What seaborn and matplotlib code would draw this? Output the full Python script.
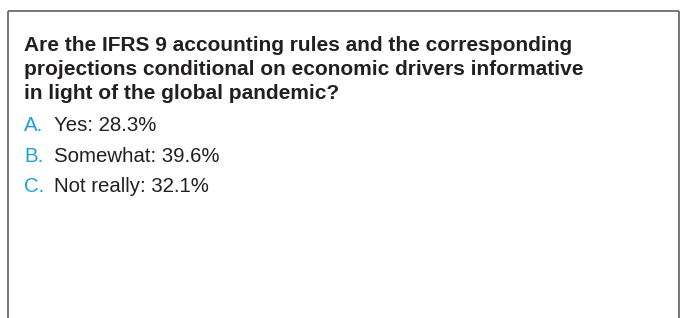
"""
Poll result card: IFRS 9 question with three answer shares.
"""

import matplotlib
matplotlib.use("Agg")
import matplotlib.pyplot as plt
import seaborn as sns

# Data
question_lines = [
    "Are the IFRS 9 accounting rules and the corresponding",
    "projections conditional on economic drivers informative",
    "in light of the global pandemic?",
]
answer_letters = ["A.", "B.", "C."]
answer_labels = ["Yes", "Somewhat", "Not really"]
answer_shares = [28.3, 39.6, 32.1]

sns.set_style("white")
plt.rcParams["font.family"] = ["Liberation Sans", "DejaVu Sans"]

W, H = 683, 318
fig = plt.figure(figsize=(W / 100, H / 100), dpi=100)
ax = fig.add_axes([0, 0, 1, 1])
ax.set_xlim(0, W)
ax.set_ylim(H, 0)
ax.axis("off")

# Card border (open at the bottom)
border = "#6b6b6b"
ax.plot([8, 8], [H + 5, 11], color=border, lw=1.3, solid_capstyle="butt")
ax.plot([8, 678.5], [11, 11], color=border, lw=1.3, solid_capstyle="butt")
ax.plot([678.5, 678.5], [11, H + 5], color=border, lw=1.3, solid_capstyle="butt")

text_color = "#231f20"
accent = "#1ea0dc"
left = 24

for i, line in enumerate(question_lines):
    ax.text(left, 51 + i * 24, line, fontsize=15.0, fontweight="bold",
            color=text_color, va="baseline", ha="left")

for i, (letter, label, share) in enumerate(zip(answer_letters, answer_labels, answer_shares)):
    y = 130.7 + i * 30.8
    ax.text(left, y, letter, fontsize=14.7, color=accent, va="baseline", ha="left")
    ax.text(left + 30, y, f"{label}: {share:.1f}%", fontsize=14.7,
            color=text_color, va="baseline", ha="left")

fig.savefig("out.png", dpi=100, facecolor="white")
plt.close(fig)
